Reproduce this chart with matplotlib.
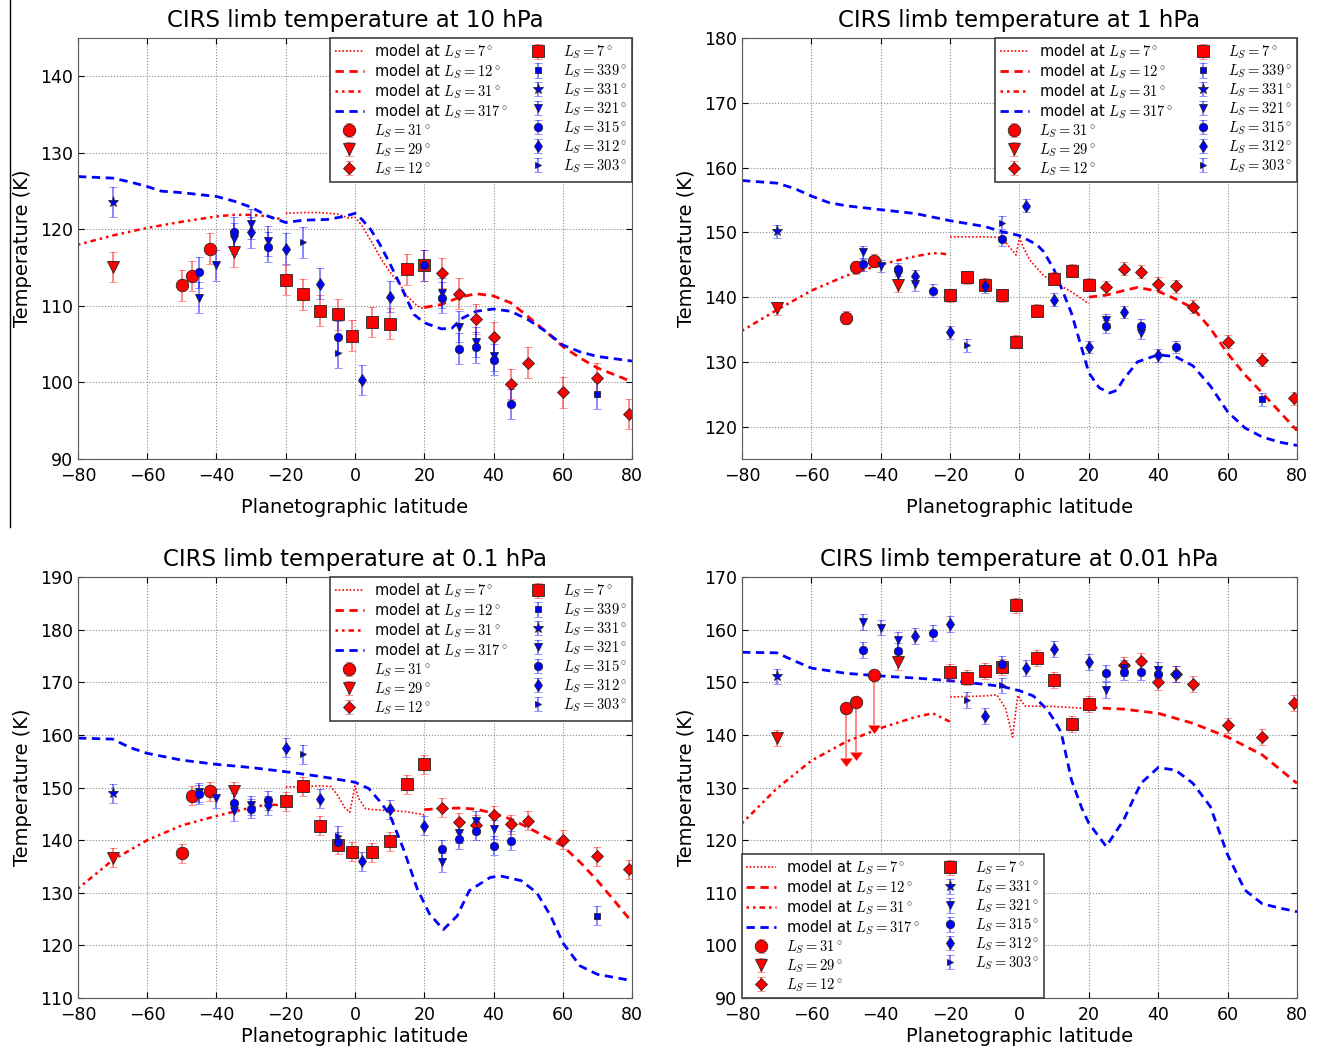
import numpy as np
import matplotlib
matplotlib.use('Agg')
import matplotlib.pyplot as plt
from matplotlib.lines import Line2D

plt.rcParams['font.family'] = ['DejaVu Sans']
plt.rcParams['mathtext.fontset'] = 'cm'
plt.rcParams['xtick.direction'] = 'in'
plt.rcParams['ytick.direction'] = 'in'
plt.rcParams['xtick.top'] = True
plt.rcParams['ytick.right'] = True

# ---------------- data: 10 hPa ----------------
p10_o31 = [(-50, 112.7), (-47, 113.9), (-42, 117.5)]
p10_v29 = [(-70, 115.1), (-35, 117.1)]
p10_d12 = [(25, 114.3), (30, 111.6), (35, 108.3), (40, 105.9), (45, 99.8), (50, 102.6),
           (60, 98.7), (70, 100.6), (79, 95.9)]
p10_s7 = [(-20, 113.4), (-15, 111.5), (-10, 109.4), (-5, 108.9), (-1, 106.1), (5, 107.9),
          (10, 107.7), (15, 114.8), (20, 115.3)]
p10_b339 = [(70, 98.5)]
p10_b331 = [(-70, 123.6)]
p10_b321 = [(-45, 111.1), (-40, 115.3), (-35, 118.8), (-30, 120.7), (-25, 118.5), (25, 111.7),
            (30, 107.3), (35, 105.3), (40, 103.5)]
p10_b315 = [(-45, 114.4), (-35, 119.6), (-25, 117.7), (-5, 106.0), (20, 115.3), (25, 111.1),
            (30, 104.4), (35, 104.6), (40, 103.0), (45, 97.2)]
p10_b312 = [(-30, 119.6), (-20, 117.5), (-10, 112.9), (2, 100.3), (10, 111.2)]
p10_b303 = [(-15, 118.3), (-5, 103.9)]
p10_m31 = [(-80, 118.0), (-70, 119.2), (-60, 120.2), (-50, 121.0), (-40, 121.7), (-35, 121.9),
           (-30, 121.9), (-25, 121.7), (-21, 121.3)]
p10_m7 = [(-20, 122.1), (-15, 122.2), (-10, 122.2), (-5, 122.0), (-2, 121.5), (0, 121.6),
          (2, 120.5), (5, 118.2), (8, 115.8), (10, 114.5), (13, 112.8), (15, 111.3),
          (18, 110.0), (20, 109.6)]
p10_m12 = [(20, 109.8), (25, 110.2), (30, 111.1), (35, 111.6), (40, 111.3), (45, 110.4),
           (50, 108.6), (55, 106.7), (60, 104.7), (65, 103.2), (70, 101.9), (75, 101.0),
           (80, 100.1)]
p10_m317 = [(-80, 126.9), (-70, 126.7), (-65, 126.2), (-60, 125.6), (-56, 125.0), (-50, 124.8),
            (-40, 124.3), (-35, 123.7), (-30, 122.9), (-25, 121.7), (-20, 120.9), (-15, 121.2),
            (-8, 121.3), (-3, 121.7), (0, 122.1), (2, 121.3), (4.5, 120.0), (7, 118.2),
            (10, 115.6), (13, 112.8), (17, 108.9), (20, 107.8), (25, 107.0), (28, 107.1),
            (31, 108.4), (35, 109.3), (40, 109.6), (45, 109.3), (50, 108.2), (55, 106.7),
            (60, 104.9), (65, 104.0), (70, 103.4), (75, 103.1), (80, 102.8)]

# ---------------- data: 1 hPa ----------------
p1_o31 = [(-50, 136.8), (-47, 144.6), (-42, 145.6)]
p1_v29 = [(-70, 138.3), (-35, 141.8)]
p1_d12 = [(25, 141.5), (30, 144.4), (35, 143.9), (40, 142.1), (45, 141.7), (50, 138.5),
          (60, 133.1), (70, 130.3), (79, 124.4)]
p1_s7 = [(-20, 140.3), (-15, 143.1), (-10, 141.9), (-5, 140.3), (-1, 133.1), (5, 137.9),
         (10, 142.8), (15, 144.1), (20, 141.9)]
p1_b339 = [(70, 124.2)]
p1_b331 = [(-70, 150.2)]
p1_b321 = [(-45, 146.9), (-40, 144.8), (-35, 143.4), (-30, 142.0), (25, 136.4), (35, 134.5)]
p1_b315 = [(-45, 145.1), (-35, 144.3), (-25, 141.0), (-5, 148.9), (25, 135.5), (35, 135.6),
           (45, 132.3)]
p1_b312 = [(-30, 143.2), (-20, 134.6), (-10, 141.7), (2, 154.1), (10, 139.6), (20, 132.3),
           (30, 137.7), (40, 131.0)]
p1_b303 = [(-15, 132.6), (-5, 151.5)]
p1_m31 = [(-80, 134.8), (-70, 138.0), (-60, 141.0), (-50, 143.3), (-40, 145.0), (-35, 145.7),
          (-30, 146.3), (-25, 146.8), (-22, 146.7), (-20, 146.5)]
p1_m7 = [(-20, 149.3), (-15, 149.3), (-10, 149.3), (-5, 149.2), (-3, 147.8), (-1, 146.5),
         (0, 149.2), (1, 147.8), (3, 145.7), (7, 143.3), (10, 142.3), (15, 140.8), (20, 139.0)]
p1_m12 = [(20, 140.0), (25, 140.3), (30, 141.0), (34, 141.5), (40, 140.9), (45, 139.7),
          (50, 138.3), (55, 135.2), (60, 131.3), (65, 128.0), (70, 125.2), (75, 122.3),
          (80, 119.4)]
p1_m317 = [(-80, 158.0), (-70, 157.6), (-65, 156.8), (-60, 155.6), (-55, 154.6), (-50, 154.1),
           (-40, 153.5), (-30, 152.9), (-20, 151.8), (-10, 150.9), (-5, 150.1), (0, 149.5),
           (5, 148.1), (7, 147.0), (10, 144.2), (15, 137.5), (20, 128.3), (23, 126.0),
           (26, 125.2), (28, 125.6), (30, 127.3), (34, 130.0), (40, 131.1), (45, 130.8),
           (50, 129.4), (55, 126.3), (60, 122.3), (65, 119.8), (70, 118.4), (75, 117.6),
           (80, 117.1)]

# ---------------- data: 0.1 hPa ----------------
p01_o31 = [(-50, 137.5), (-47, 148.4), (-42, 149.3)]
p01_v29 = [(-70, 136.7), (-35, 149.3)]
p01_d12 = [(25, 146.2), (30, 143.4), (35, 142.9), (40, 144.7), (45, 143.0), (50, 143.7),
           (60, 140.1), (70, 136.9), (79, 134.5)]
p01_s7 = [(-20, 147.4), (-15, 150.2), (-10, 142.7), (-5, 139.1), (-1, 137.8), (5, 137.7),
          (10, 139.8), (15, 150.6), (20, 154.4)]
p01_b339 = [(70, 125.6)]
p01_b331 = [(-70, 148.9)]
p01_b321 = [(-45, 149.1), (-40, 148.0), (-35, 145.5), (-30, 146.6), (25, 135.8), (30, 141.3),
            (35, 143.7), (40, 142.1)]
p01_b315 = [(-45, 148.7), (-35, 147.1), (-30, 146.0), (-25, 147.6), (-5, 139.7), (25, 138.3),
            (30, 140.2), (35, 141.8), (40, 138.9), (45, 139.9)]
p01_b312 = [(-25, 146.6), (-20, 157.6), (-10, 147.9), (2, 136.0), (10, 145.9), (20, 142.7)]
p01_b303 = [(-15, 156.3), (-5, 140.8)]
p01_m31 = [(-80, 130.8), (-70, 136.2), (-60, 140.0), (-50, 142.8), (-40, 144.6), (-30, 146.2),
           (-25, 146.8), (-21, 146.6)]
p01_m7 = [(-20, 150.1), (-15, 150.2), (-10, 150.3), (-7, 150.2), (-5, 148.5), (-3, 146.2),
          (-1.5, 145.3), (0, 150.3), (1, 148.0), (3, 146.0), (5, 145.8), (10, 145.6),
          (15, 145.4), (20, 144.8)]
p01_m12 = [(20, 145.8), (25, 146.0), (30, 146.1), (35, 145.9), (40, 145.1), (45, 144.0),
           (50, 142.4), (55, 140.6), (60, 138.9), (65, 135.8), (70, 132.3), (75, 128.4),
           (80, 124.4)]
p01_m317 = [(-80, 159.4), (-70, 159.2), (-65, 157.6), (-60, 156.5), (-50, 155.2), (-40, 154.4),
            (-30, 153.8), (-20, 153.0), (-10, 152.1), (0, 151.0), (4, 149.8), (7, 147.5),
            (10, 144.9), (14, 138.3), (18, 130.7), (21.5, 126.0), (25.5, 123.0), (29.5, 125.6),
            (33, 130.4), (39, 132.9), (42, 133.2), (48, 132.3), (52.5, 130.0), (56.5, 125.6),
            (60, 120.5), (65, 116.1), (70, 114.5), (75, 113.9), (80, 113.3)]

# ---------------- data: 0.01 hPa ----------------
p001_o31 = [(-50, 145.1), (-47, 146.2), (-42, 151.4)]
p001_v29 = [(-70, 139.4), (-35, 153.9)]
p001_d12 = [(30, 153.3), (35, 154.1), (40, 150.0), (45, 151.6), (50, 149.6), (60, 141.8),
            (70, 139.6), (79, 146.1)]
p001_s7 = [(-20, 152.0), (-15, 150.9), (-10, 152.2), (-5, 152.9), (-1, 164.6), (5, 154.6),
           (10, 150.5), (15, 142.1), (20, 145.9)]
p001_b331 = [(-70, 151.1)]
p001_b321 = [(-45, 161.5), (-40, 160.4), (-35, 158.0), (25, 148.6), (30, 152.7), (40, 152.3)]
p001_b315 = [(-45, 156.1), (-35, 156.0), (-25, 159.4), (-5, 153.5), (25, 151.8), (30, 152.0),
             (35, 152.0), (40, 151.6), (45, 151.6)]
p001_b312 = [(-30, 158.8), (-20, 161.0), (-10, 143.6), (2, 152.7), (10, 156.3), (20, 153.8)]
p001_b303 = [(-15, 146.7), (-5, 149.4)]
p001_m31 = [(-80, 123.2), (-70, 129.8), (-60, 135.1), (-50, 138.7), (-40, 141.3), (-30, 143.4),
            (-25, 144.1), (-20, 142.5)]
p001_m7 = [(-20, 147.2), (-10, 147.4), (-6.5, 147.6), (-4, 145.0), (-2, 139.6), (-0.5, 147.5),
           (1.5, 145.5), (10, 145.4), (20, 145.0)]
p001_m12 = [(20, 145.2), (30, 144.9), (40, 144.1), (50, 142.2), (60, 139.6), (70, 136.2),
            (80, 130.8)]
p001_m317 = [(-80, 155.7), (-70, 155.6), (-65, 154.1), (-60, 152.7), (-50, 151.7), (-40, 151.2),
             (-30, 150.8), (-20, 150.3), (-10, 149.6), (-5, 149.2), (0, 148.4), (4, 147.4),
             (8, 144.8), (10, 142.8), (12, 140.5), (15, 131.4), (18, 126.0), (20, 123.2),
             (25, 118.8), (30, 123.8), (35, 130.8), (40, 133.8), (45, 133.3), (50, 130.8),
             (55, 126.4), (60, 117.2), (65, 110.5), (70, 107.9), (75, 107.1), (80, 106.4)]
p001_limit_len = 9.5   # length of the upper-limit arrows at 0.01 hPa

titles = ['CIRS limb temperature at 10 hPa', 'CIRS limb temperature at 1 hPa',
          'CIRS limb temperature at 0.1 hPa', 'CIRS limb temperature at 0.01 hPa']
ylims = [(90, 145), (115, 180), (110, 190), (90, 170)]
yticks = [np.arange(90, 141, 10), np.arange(120, 181, 10), np.arange(110, 191, 10),
          np.arange(90, 171, 10)]
errs = [2.0, 1.0, 1.8, 1.5]

panels = [
    dict(models=[p10_m7, p10_m12, p10_m31, p10_m317],
         obs=[p10_o31, p10_v29, p10_d12, p10_s7, p10_b339, p10_b331, p10_b321, p10_b315,
              p10_b312, p10_b303]),
    dict(models=[p1_m7, p1_m12, p1_m31, p1_m317],
         obs=[p1_o31, p1_v29, p1_d12, p1_s7, p1_b339, p1_b331, p1_b321, p1_b315,
              p1_b312, p1_b303]),
    dict(models=[p01_m7, p01_m12, p01_m31, p01_m317],
         obs=[p01_o31, p01_v29, p01_d12, p01_s7, p01_b339, p01_b331, p01_b321, p01_b315,
              p01_b312, p01_b303]),
    dict(models=[p001_m7, p001_m12, p001_m31, p001_m317],
         obs=[p001_o31, p001_v29, p001_d12, p001_s7, None, p001_b331, p001_b321, p001_b315,
              p001_b312, p001_b303]),
]

model_labels = [r'model at $L_S=7^\circ$', r'model at $L_S=12^\circ$',
                r'model at $L_S=31^\circ$', r'model at $L_S=317^\circ$']
model_styles = [dict(color='r', lw=1.2, ls=(0, (1, 1.2))),
                dict(color='r', lw=2, ls=(0, (3, 2))),
                dict(color='r', lw=1.8, ls=(0, (1, 1.6, 1, 1.6, 2.2, 1.6))),
                dict(color='b', lw=2, ls=(0, (3, 2)))]
obs_labels = [r'$L_S=31^\circ$', r'$L_S=29^\circ$', r'$L_S=12^\circ$', r'$L_S=7^\circ$',
              r'$L_S=339^\circ$', r'$L_S=331^\circ$', r'$L_S=321^\circ$', r'$L_S=315^\circ$',
              r'$L_S=312^\circ$', r'$L_S=303^\circ$']
obs_styles = [('o', 'r', 9), ('v', 'r', 9), ('D', 'r', 6), ('s', 'r', 9),
              ('s', 'b', 5), ('*', 'b', 8), ('v', 'b', 6), ('o', 'b', 6),
              ('d', 'b', 6), ('>', 'b', 5)]

positions = [[0.0592, 0.562, 0.4207, 0.4017], [0.5634, 0.562, 0.4214, 0.4017],
             [0.0592, 0.0477, 0.4207, 0.4017], [0.5634, 0.0477, 0.4214, 0.4017]]

fig = plt.figure(figsize=(13.17, 10.48), dpi=100)
fig.add_artist(Line2D([10 / 1317, 10 / 1317], [1, 1 - 527 / 1048], transform=fig.transFigure,
                      color='k', lw=1))

for i, pan in enumerate(panels):
    ax = fig.add_axes(positions[i])
    for m, lab, st in zip(pan['models'], model_labels, model_styles):
        arr = np.array(m)
        ax.plot(arr[:, 0], arr[:, 1], label=lab, **st)
    for j, (o, lab, (mk, c, ms)) in enumerate(zip(pan['obs'], obs_labels, obs_styles)):
        if o is None:
            continue
        arr = np.array(o)
        ecol = (1, 0, 0, 0.5) if c == 'r' else (0, 0, 1, 0.5)
        kw = dict(fmt=mk, color=c, ecolor=ecol, mec='0.15', mew=0.6, ms=ms,
                  capsize=3, elinewidth=1.3, capthick=1.0)
        if i == 3 and j == 0:
            # upper limits drawn as arrows
            ax.errorbar(arr[:, 0], arr[:, 1], yerr=p001_limit_len, uplims=True,
                        fmt=mk, color=c, ecolor=ecol, mec='0.15', mew=0.6, ms=ms,
                        elinewidth=1.3, capsize=4)
            ax.errorbar([np.nan], [np.nan], yerr=[errs[i]], label=lab, **kw)
        else:
            ax.errorbar(arr[:, 0], arr[:, 1], yerr=errs[i], label=lab, **kw)

    ax.set_xlim(-80, 80)
    ax.set_ylim(*ylims[i])
    ax.set_xticks(np.arange(-80, 81, 20))
    ax.set_yticks(yticks[i])
    ax.grid(True, color='0.55', ls=':', lw=0.8)
    ax.tick_params(labelsize=12.5, length=4)
    ax.tick_params(axis='x', pad=6)
    for s in ax.spines.values():
        s.set_color('0.35')
    ax.set_title(titles[i], fontsize=16.5, pad=8)
    ax.set_xlabel('Planetographic latitude', fontsize=14, labelpad=9 if i < 2 else 2)
    ax.set_ylabel('Temperature (K)', fontsize=14, labelpad=6)
    leg = ax.legend(loc='upper right' if i < 3 else 'lower left', ncol=2, numpoints=1,
                    fontsize=10.5, borderaxespad=0, labelspacing=0.1, handlelength=2.0,
                    handletextpad=0.7, columnspacing=1.1, fancybox=False, framealpha=1,
                    borderpad=0.3)
    leg.get_frame().set_edgecolor('0.25')
    leg.get_frame().set_linewidth(1.2)

fig.savefig('out.png', dpi=100)
